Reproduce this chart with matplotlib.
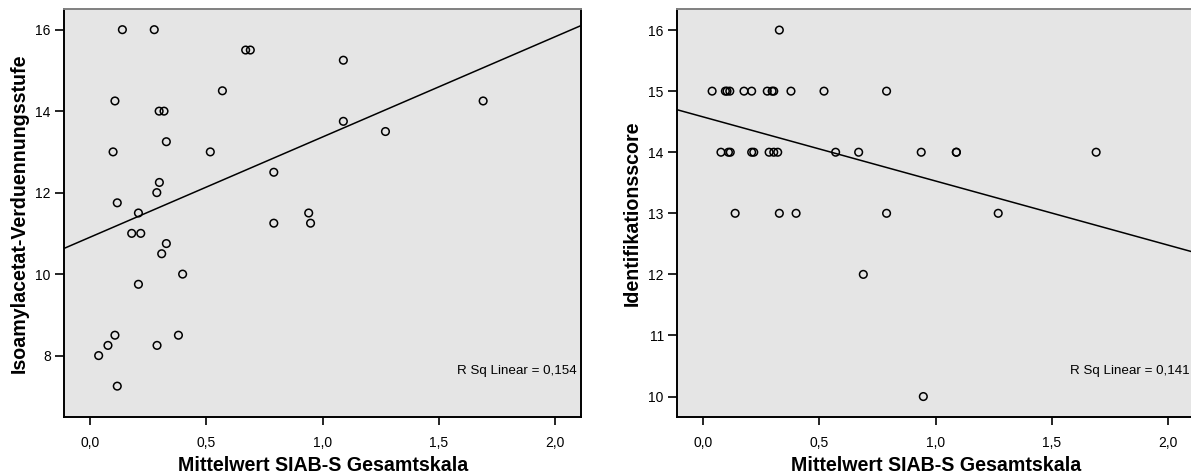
import numpy as np
import matplotlib
matplotlib.use("Agg")
from matplotlib import pyplot as plt
from matplotlib.ticker import FuncFormatter

plt.rcParams["font.family"] = ["Liberation Sans", "DejaVu Sans"]

# SIAB-S mean score vs. isoamyl acetate dilution step
siab_left = [0.139, 0.276, 0.669, 0.689, 0.569, 0.107, 0.297, 0.318, 0.328, 0.099,
             0.517, 0.790, 0.298, 0.287, 0.117, 0.208, 0.790, 0.179, 0.218, 0.328,
             0.308, 0.398, 0.208, 0.107, 0.380, 0.077, 0.288, 0.037, 0.117, 1.089,
             1.089, 1.270, 1.690, 0.940, 0.948]
dilution = [16, 16, 15.5, 15.5, 14.5, 14.25, 14, 14, 13.25, 13,
            13, 12.5, 12.25, 12, 11.75, 11.5, 11.25, 11, 11, 10.75,
            10.5, 10, 9.75, 8.5, 8.5, 8.25, 8.25, 8, 7.25, 15.25,
            13.75, 13.5, 14.25, 11.5, 11.25]

# SIAB-S mean score vs. identification score
siab_right = [0.039, 0.096, 0.103, 0.115, 0.176, 0.209, 0.276, 0.297, 0.304, 0.378,
              0.520, 0.789,
              0.328,
              0.077, 0.109, 0.117, 0.209, 0.218, 0.284, 0.304, 0.321, 0.570, 0.669,
              0.938, 1.089, 1.089, 1.690,
              0.138, 0.328, 0.400, 0.789, 1.269,
              0.689,
              0.947]
ident = [15, 15, 15, 15, 15, 15, 15, 15, 15, 15,
         15, 15,
         16,
         14, 14, 14, 14, 14, 14, 14, 14, 14, 14,
         14, 14, 14, 14,
         13, 13, 13, 13, 13,
         12,
         10]

panels = [
    (siab_left, dilution, "Isoamylacetat-Verduennungsstufe", (6.5, 16.5), [8, 10, 12, 14, 16], "0,154"),
    (siab_right, ident, "Identifikationsscore", (9.67, 16.34), [10, 11, 12, 13, 14, 15, 16], "0,141"),
]

W, H = 1191, 474
fig = plt.figure(figsize=(W / 100, H / 100), dpi=100)
ax_w, ax_h = 517.3, 407.4
lefts = [64, 677]
bottom = H - 416.7

comma = FuncFormatter(lambda v, p: f"{v:.1f}".replace(".", ","))

for (x, y, ylab, ylim, yticks, rsq), left in zip(panels, lefts):
    ax = fig.add_axes([left / W, bottom / H, ax_w / W, ax_h / H])
    ax.set_facecolor("#e5e5e5")
    ax.scatter(x, y, s=30, facecolors="none", edgecolors="black", linewidths=1.1, zorder=3)

    # least-squares fit line across the full x range
    xs = np.array([-0.112, 2.112])
    k, d = np.polyfit(x, y, 1)
    ax.plot(xs, k * xs + d, color="black", lw=1.1, zorder=2)

    ax.set_xlim(-0.112, 2.112)
    ax.set_ylim(*ylim)
    ax.set_xticks([0, 0.5, 1.0, 1.5, 2.0])
    ax.xaxis.set_major_formatter(comma)
    ax.set_yticks(yticks)
    ax.tick_params(axis="x", length=6, width=1.2, pad=8, labelsize=10)
    ax.tick_params(axis="y", length=6.5, width=1.2, pad=3, labelsize=10)

    for side in ["left", "bottom", "right"]:
        ax.spines[side].set_linewidth(1.4)
        ax.spines[side].set_color("black")
    ax.spines["top"].set_linewidth(1.4)
    ax.spines["top"].set_color("#808080")

    ax.set_xlabel("Mittelwert SIAB-S Gesamtskala", fontsize=14.1, fontweight="bold", va="center")
    ax.xaxis.set_label_coords(0.5, -0.1186)
    ax.set_ylabel(ylab, fontsize=14.1, fontweight="bold", va="center")
    ax.yaxis.set_label_coords(-45 / ax_w, 0.5)

    ax.text(0.99, 0.113, "R Sq Linear = " + rsq, transform=ax.transAxes,
            ha="right", va="center", fontsize=9.6)

fig.savefig("out.png", dpi=100)
